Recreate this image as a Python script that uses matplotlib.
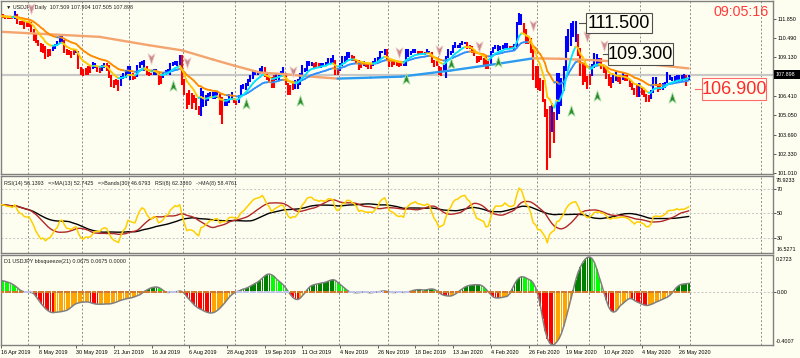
import matplotlib
matplotlib.use("Agg")
import matplotlib.pyplot as plt
import numpy as np
import pandas as pd
from matplotlib.collections import LineCollection
from matplotlib.lines import Line2D
from matplotlib.patches import Rectangle
from matplotlib.path import Path

plt.rcParams["font.family"] = ["Liberation Sans", "DejaVu Sans"]

BG = "#FEFEF0"
W, H = 800, 358

# ---------------- data ----------------
highs = [
    112.17, 112.17, 112.05, 111.98,
    112.00, 112.05, 112.40, 112.20, 111.70,
    111.70, 111.70, 111.70, 111.70, 111.65,
    111.10, 110.80, 110.35, 110.15, 110.05,
    109.95, 109.70, 109.75, 110.00, 110.10,
    110.25, 110.70, 110.65, 110.35, 109.70,
    109.65, 109.55, 109.70, 109.75, 109.55,
    108.45, 108.30, 108.40, 108.50, 108.50,
    108.80, 108.75, 108.55, 108.50, 108.60,
    108.70, 108.70, 108.60, 107.85, 107.50,
    107.60, 107.50, 107.80, 108.00, 108.20,
    108.55, 108.50, 108.00, 107.85, 108.60,
    108.80, 108.90, 108.95, 108.55, 108.10,
    108.00, 108.30, 108.30, 108.05, 107.90,
    108.00, 108.25, 108.30, 108.70, 108.80,
    108.85, 108.90, 109.30, 109.30, 107.60,
    106.60, 106.80, 106.65, 106.50, 106.30,
    105.70, 106.95, 106.75, 106.50, 106.60,
    106.70, 106.70, 106.70, 106.70, 106.60,
    106.35, 106.20, 106.20, 106.55, 106.70,
    106.30, 106.20, 106.50, 107.20, 107.25,
    107.30, 107.60, 107.90, 108.25, 108.20,
    108.20, 108.35, 108.50, 108.45, 108.10,
    107.75, 107.75, 107.85, 107.95, 108.05,
    108.20, 108.45, 108.05, 107.30, 107.20,
    107.40, 107.50, 107.60, 108.00, 108.60,
    108.40, 108.90, 108.90, 108.80, 108.75,
    108.80, 108.75, 108.75, 108.75, 108.80,
    109.05, 109.05, 109.30, 108.95, 108.30,
    108.70, 109.25, 109.20, 109.50, 109.50,
    109.30, 109.25, 109.00, 108.95, 108.85,
    108.85, 108.80, 108.70, 108.75, 108.90,
    109.05, 109.15, 109.60, 109.60, 109.70,
    109.70, 109.00, 108.95, 108.95, 108.90,
    108.70, 108.80, 108.90, 109.70, 109.70,
    109.60, 109.70, 109.70, 109.60, 109.55,
    109.55, 109.50, 109.70, 109.60,
    109.50, 108.95, 108.90, 108.55,
    108.45, 108.60, 109.25, 109.70, 109.60,
    110.00, 110.20, 110.00, 110.15, 110.30,
    110.20, 110.20, 110.00, 109.95, 109.75,
    109.25, 109.20, 109.25, 109.10, 109.25,
    108.90, 109.60, 109.85, 110.00, 110.00,
    109.90, 110.00, 110.15, 110.15, 109.95,
    109.95, 110.05, 111.60, 112.25, 112.20,
    111.55, 111.15, 110.65, 110.50, 109.70,
    108.55, 108.50, 107.65, 107.55, 106.20,
    105.50, 105.70, 105.90, 105.30, 108.00,
    108.00, 107.65, 108.50, 110.65, 111.10,
    111.55, 111.70, 111.70, 110.75, 109.80,
    108.70, 108.70, 107.80, 107.95, 108.65,
    109.40, 109.35, 109.05, 109.10, 108.55,
    108.50, 107.95, 107.75, 107.95, 108.10,
    107.85, 107.85, 108.00, 107.90, 107.85,
    107.60, 107.35, 106.95, 107.20, 107.30,
    107.00, 106.80, 106.55, 106.50, 106.80,
    107.75, 107.75, 107.25, 107.30, 107.30,
    107.40, 108.10, 107.90, 107.75, 107.80,
    107.85, 107.85, 107.85, 107.95, 107.90,
    107.904,
]
lows = [
    111.85, 111.87, 111.80, 111.85,
    111.85, 111.80, 111.85, 111.50, 111.40,
    111.40, 111.15, 111.30, 111.30, 110.90,
    110.30, 110.15, 109.90, 109.50, 109.45,
    109.00, 109.15, 109.25, 109.55, 109.70,
    109.95, 110.05, 110.15, 109.40, 109.30,
    109.30, 109.10, 109.30, 109.40, 108.30,
    107.85, 107.80, 107.90, 107.90, 108.00,
    108.30, 108.40, 108.10, 108.00, 108.15,
    108.40, 108.15, 107.70, 107.05, 107.00,
    107.20, 106.78, 107.10, 107.60, 107.70,
    107.95, 107.55, 107.55, 107.60, 107.75,
    108.40, 108.60, 108.20, 107.90, 107.80,
    107.85, 107.85, 107.90, 107.20, 107.25,
    107.70, 107.85, 107.95, 107.90, 108.50,
    108.60, 108.50, 108.45, 107.20, 106.50,
    105.50, 105.80, 105.50, 105.90, 105.40,
    105.05, 105.00, 105.60, 105.70, 106.05,
    106.30, 106.20, 106.20, 106.30, 105.05,
    104.45, 105.70, 105.70, 105.90, 106.20,
    105.90, 105.75, 105.90, 106.40, 106.90,
    106.80, 107.10, 107.40, 107.60, 107.85,
    107.85, 107.95, 108.00, 107.75, 107.50,
    107.30, 107.00, 106.95, 107.50, 107.55,
    107.80, 107.85, 107.20, 106.50, 106.50,
    106.80, 106.90, 106.90, 107.20, 107.90,
    108.10, 108.20, 108.55, 108.50, 108.30,
    108.40, 108.40, 108.40, 108.50, 108.50,
    108.60, 108.75, 108.75, 107.90, 107.90,
    108.20, 108.55, 108.80, 108.90, 109.05,
    108.85, 108.85, 108.65, 108.25, 108.35,
    108.50, 108.45, 108.30, 108.30, 108.55,
    108.70, 108.80, 109.00, 109.40, 109.30,
    108.90, 108.45, 108.45, 108.60, 108.50,
    108.45, 108.50, 108.50, 108.50, 109.15,
    109.30, 109.40, 109.45, 109.30, 109.35,
    109.35, 109.30, 109.35, 109.35,
    108.75, 108.45, 108.50, 107.85,
    107.80, 108.20, 107.65, 109.05, 109.30,
    109.45, 109.80, 109.80, 109.80, 110.00,
    110.05, 109.75, 109.70, 109.40, 109.20,
    108.75, 108.80, 108.95, 108.55, 108.30,
    108.30, 108.60, 109.40, 109.75, 109.55,
    109.65, 109.70, 109.75, 109.75, 109.70,
    109.70, 109.60, 109.85, 111.40, 111.40,
    110.75, 110.10, 110.05, 109.40, 107.50,
    107.00, 106.80, 106.75, 106.00, 104.95,
    101.20, 102.05, 103.85, 103.10, 104.70,
    105.15, 105.70, 106.75, 108.20, 109.50,
    109.90, 110.55, 110.20, 109.20, 107.80,
    107.15, 107.40, 106.90, 107.15, 107.80,
    108.40, 108.55, 108.50, 108.30, 108.00,
    107.60, 107.10, 106.95, 107.30, 107.45,
    107.40, 107.25, 107.55, 107.45, 107.45,
    107.05, 106.80, 106.50, 106.35, 106.35,
    106.45, 106.35, 105.99, 106.00, 106.20,
    106.60, 107.10, 106.70, 106.80, 106.85,
    106.95, 107.30, 107.50, 107.45, 107.40,
    107.55, 107.40, 107.45, 107.55, 107.10,
    107.505,
]
closes = [
    112.02, 112.00, 111.93, 111.90,
    111.93, 111.85, 112.20, 111.60, 111.55,
    111.60, 111.40, 111.45, 111.50, 111.10,
    110.75, 110.25, 110.10, 109.75, 109.95,
    109.30, 109.60, 109.60, 109.85, 110.05,
    110.05, 110.55, 110.35, 109.60, 109.35,
    109.50, 109.40, 109.60, 109.60, 108.30,
    108.10, 108.15, 108.40, 108.20, 108.20,
    108.45, 108.55, 108.40, 108.35, 108.55,
    108.55, 108.40, 107.70, 107.35, 107.30,
    107.30, 107.20, 107.75, 107.85, 107.85,
    108.45, 107.85, 107.80, 107.80, 108.50,
    108.75, 108.85, 108.50, 108.00, 107.90,
    107.90, 108.25, 108.00, 107.30, 107.70,
    107.90, 108.20, 108.15, 108.65, 108.65,
    108.80, 108.60, 108.90, 107.35, 106.60,
    105.90, 106.50, 106.30, 106.05, 105.50,
    105.30, 106.70, 105.85, 106.15, 106.35,
    106.60, 106.25, 106.60, 106.45, 105.40,
    106.10, 105.80, 106.10, 106.50, 106.25,
    106.20, 105.95, 106.40, 106.95, 106.90,
    107.25, 107.55, 107.80, 108.05, 108.10,
    108.10, 108.15, 108.45, 107.95, 107.55,
    107.55, 107.05, 107.75, 107.85, 107.90,
    108.05, 107.85, 107.25, 106.90, 106.95,
    107.25, 107.10, 107.50, 107.95, 108.30,
    108.35, 108.85, 108.75, 108.70, 108.45,
    108.60, 108.50, 108.70, 108.60, 108.65,
    108.95, 108.85, 108.80, 108.05, 108.20,
    108.60, 109.20, 108.95, 109.40, 109.25,
    109.05, 109.00, 108.80, 108.40, 108.80,
    108.65, 108.60, 108.65, 108.65, 108.65,
    108.90, 109.05, 109.50, 109.50, 109.50,
    109.00, 108.60, 108.85, 108.75, 108.60,
    108.60, 108.70, 108.55, 109.60, 109.35,
    109.55, 109.50, 109.60, 109.40, 109.45,
    109.40, 109.40, 109.55, 109.40,
    108.85, 108.60, 108.55, 108.10,
    108.40, 108.45, 109.15, 109.50, 109.45,
    109.95, 109.95, 109.90, 110.15, 110.15,
    110.15, 109.85, 109.85, 109.50, 109.25,
    108.90, 109.05, 109.00, 108.95, 108.35,
    108.65, 109.50, 109.85, 109.95, 109.75,
    109.75, 109.80, 110.10, 109.80, 109.75,
    109.85, 110.00, 111.45, 112.10, 111.55,
    110.75, 110.20, 110.40, 109.50, 107.85,
    108.35, 107.00, 107.50, 106.15, 105.40,
    102.35, 105.65, 104.60, 104.70, 107.90,
    105.85, 107.60, 108.40, 110.65, 110.90,
    111.20, 111.20, 111.20, 109.50, 107.90,
    108.40, 107.55, 107.20, 107.90, 108.45,
    109.25, 108.80, 108.85, 108.45, 108.45,
    107.70, 107.20, 107.45, 107.90, 107.50,
    107.70, 107.70, 107.75, 107.60, 107.50,
    107.20, 106.90, 106.60, 107.15, 106.90,
    106.70, 106.55, 106.10, 106.25, 106.65,
    107.70, 107.15, 107.00, 107.00, 107.15,
    107.30, 107.70, 107.60, 107.55, 107.60,
    107.75, 107.55, 107.70, 107.65, 107.80,
    107.898,
]

date_labels = ["16 Apr 2019", "8 May 2019", "30 May 2019", "21 Jun 2019", "16 Jul 2019",
               "6 Aug 2019", "28 Aug 2019", "19 Sep 2019", "11 Oct 2019", "4 Nov 2019",
               "26 Nov 2019", "18 Dec 2019", "13 Jan 2020", "4 Feb 2020", "26 Feb 2020",
               "19 Mar 2020", "10 Apr 2020", "4 May 2020", "26 May 2020"]
label_step = 16

# slow moving average, read as points along the line
long_ma_bars = [0, 42, 63, 77, 90, 99, 110, 120, 131, 143, 157, 170, 191, 212, 226, 237, 254, 276, 292]
long_ma_vals = [110.93, 110.57, 109.98, 109.62, 108.98, 108.55, 108.06, 107.95, 107.78, 107.63,
                107.70, 107.77, 108.20, 108.70, 109.06, 109.03, 108.91, 108.63, 108.35]

# bbsqueeze histogram, one value per bar
squeeze = [
    0.090, 0.086, 0.082, 0.076, 0.070, 0.060, 0.048, 0.034, 0.018, 0.008,
    0.003, 0.002, 0.001, -0.002, -0.012, -0.035, -0.060, -0.085, -0.105, -0.125,
    -0.140, -0.150, -0.154, -0.152, -0.150, -0.148, -0.145, -0.141, -0.136, -0.125,
    -0.110, -0.095, -0.085, -0.080, -0.076, -0.074, -0.073, -0.073, -0.078, -0.084,
    -0.088, -0.090, -0.090, -0.090, -0.089, -0.088, -0.088, -0.085, -0.080, -0.074,
    -0.066, -0.060, -0.055, -0.050, -0.046, -0.043, -0.038, -0.032, -0.025, -0.018,
    -0.005, 0.008, 0.018, 0.028, 0.035, 0.039, 0.040, 0.036, 0.026, 0.012,
    0.002, -0.002, 0.002, 0.003, 0.002, 0.006, 0.010, 0.004, -0.010, -0.035,
    -0.055, -0.075, -0.095, -0.110, -0.122, -0.130, -0.140, -0.148, -0.154, -0.157,
    -0.155, -0.148, -0.135, -0.120, -0.100, -0.080, -0.058, -0.035, -0.018, -0.004,
    0.004, 0.010, 0.018, 0.025, 0.030, 0.038, 0.048, 0.058, 0.068, 0.078,
    0.092, 0.108, 0.124, 0.136, 0.138, 0.132, 0.120, 0.100, 0.085, 0.070,
    0.053, 0.030, 0.005, -0.020, -0.040, -0.052, -0.055, -0.045, -0.025, -0.005,
    0.020, 0.040, 0.052, 0.058, 0.062, 0.066, 0.070, 0.073, 0.078, 0.085,
    0.092, 0.096, 0.090, 0.075, 0.060, 0.045, 0.030, 0.015, 0.004, 0.001,
    -0.002, -0.003, -0.002, 0.000, 0.002, 0.001, -0.002, -0.003, -0.001, 0.001,
    0.003, 0.006, 0.009, 0.010, 0.006, 0.002, -0.001, -0.002, 0.000, 0.002,
    0.001, -0.001, 0.000, 0.003, 0.008, 0.014, 0.018, 0.020, 0.020, 0.018,
    0.018, 0.020, 0.024, 0.025, 0.022, 0.012, -0.002, -0.015, -0.022, -0.026,
    -0.028, -0.028, -0.022, -0.012, 0.000, 0.015, 0.028, 0.040, 0.048, 0.053,
    0.055, 0.057, 0.057, 0.057, 0.052, 0.040, 0.022, 0.002, -0.018, -0.035,
    -0.042, -0.043, -0.041, -0.038, -0.034, -0.030, -0.010, 0.025, 0.060, 0.090,
    0.110, 0.118, 0.116, 0.108, 0.098, 0.090, 0.070, 0.035, -0.020, -0.100,
    -0.200, -0.290, -0.350, -0.385, -0.400, -0.395, -0.375, -0.350, -0.310, -0.255,
    -0.190, -0.120, -0.050, 0.020, 0.090, 0.150, 0.190, 0.225, 0.250, 0.265,
    0.268, 0.255, 0.225, 0.175, 0.116, 0.060, 0.000, -0.060, -0.110, -0.140,
    -0.150, -0.145, -0.125, -0.100, -0.086, -0.070, -0.055, -0.046, -0.050, -0.062,
    -0.072, -0.080, -0.088, -0.096, -0.100, -0.098, -0.092, -0.085, -0.075, -0.068,
    -0.060, -0.052, -0.044, -0.036, -0.023, -0.005, 0.020, 0.040, 0.053, 0.060,
    0.063, 0.065, 0.0675,
]
squeeze_on = [(0, 9), (14, 70), (76, 77), (78, 99), (123, 147), (163, 164), (174, 292)]

up_arrow_bars = [73, 104, 127, 172, 191, 211, 242, 253, 285]
up_arrow_prices = [107.13, 105.85, 106.07, 107.63, 108.63, 108.77, 105.36, 106.42, 106.28]
down_arrow_bars = [13, 64, 79, 124, 169, 186, 203, 226, 249, 256]
down_arrow_prices = [112.61, 109.05, 108.77, 108.20, 109.48, 109.62, 109.91, 111.40, 110.62, 109.98]

price_ticks = [111.850, 110.490, 109.130, 106.410, 105.050, 103.690, 102.330, 101.010]
last_price = 107.898
rsi_seed_gain, rsi_seed_loss = 0.16, 0.12

# ---------------- derived series ----------------
n = len(closes)
x = np.arange(n)
close_s = pd.Series(closes)

dates = pd.bdate_range("2019-04-16", "2020-06-01")
dates = dates.drop([pd.Timestamp("2019-12-25"), pd.Timestamp("2020-01-01")])
month_starts = [i for i in range(1, len(dates)) if dates[i].month != dates[i - 1].month]
grid_x = [m + 0.5 for m in month_starts] + [322.7]

# heiken-ashi colouring of the bars
opens = [closes[0]] + closes[:-1]
ha_close = [(o + h + l + c) / 4 for o, h, l, c in zip(opens, highs, lows, closes)]
ha_open = [(opens[0] + closes[0]) / 2]
for i in range(1, n):
    ha_open.append((ha_open[-1] + ha_close[i - 1]) / 2)
bar_colors = ["#0000FF" if c >= o else "#FF0000" for o, c in zip(ha_open, ha_close)]

fast_ma = close_s.ewm(span=8, adjust=False).mean().values
mid_ma = close_s.ewm(span=21, adjust=False).mean().values

# RSI(14) on closes, Wilder smoothing, lightly smoothed for display
diff = close_s.diff().fillna(0)
avg_up, avg_dn = rsi_seed_gain, rsi_seed_loss
rsi = []
for d in diff:
    avg_up = (avg_up * 13 + max(d, 0)) / 14
    avg_dn = (avg_dn * 13 + max(-d, 0)) / 14
    rsi.append(100 * avg_up / (avg_up + avg_dn))
rsi = pd.Series(rsi).ewm(span=3, adjust=False).mean()
rsi_ma = rsi.rolling(13, min_periods=1).mean()
rsi_band = rsi.rolling(30, min_periods=1).mean()


# ---------------- helpers ----------------
def fx(px):
    return px / W


def fy(py):
    return 1 - py / H


def px_axes(x0, y0, x1, y1):
    ax = fig.add_axes([fx(x0), fy(y1), (x1 - x0) / W, (y1 - y0) / H])
    ax.set_facecolor(BG)
    ax.set_xlim(0.13, 327.8)
    for s in ax.spines.values():
        s.set_color("#808080")
        s.set_linewidth(1.0)
    ax.tick_params(left=False, labelleft=False, bottom=False, labelbottom=False)
    for g in grid_x:
        ax.axvline(g, color="#8C8C8C", lw=0.7, ls=(0, (2, 2)), zorder=0.5)
    return ax


def slope_line(ax, xs, ys, up_color, down_color, lw, z=3):
    pts = np.column_stack([xs, ys])
    segs = np.stack([pts[:-1], pts[1:]], axis=1)
    cols = [up_color if b >= a else down_color for a, b in zip(ys[:-1], ys[1:])]
    ax.add_collection(LineCollection(segs, colors=cols, linewidths=lw, capstyle="round", zorder=z))


up_path = Path([(0, 1), (0.6, -0.8), (0, -0.35), (-0.6, -0.8), (0, 1)],
               [Path.MOVETO, Path.LINETO, Path.LINETO, Path.LINETO, Path.CLOSEPOLY])
down_path = Path([(0, -1), (0.6, 0.8), (0, 0.35), (-0.6, 0.8), (0, -1)],
                 [Path.MOVETO, Path.LINETO, Path.LINETO, Path.LINETO, Path.CLOSEPOLY])

small = 3.9

fig = plt.figure(figsize=(W / 100, H / 100), dpi=100, facecolor=BG)

# ---------------- main price panel ----------------
main = px_axes(1, 1, 773, 174)
main.set_ylim(100.913, 113.096)
main.axhline(last_price, color="#C8C8C8", lw=1.6, zorder=1)
main.vlines(x, lows, highs, colors=bar_colors, linewidth=1.5, zorder=2)
slope_line(main, np.array(long_ma_bars), np.array(long_ma_vals), "#2D9CF0", "#F4A46E", 1.7, z=2.5)
slope_line(main, x, mid_ma, "#2E8FFF", "#FF8C00", 1.3)
slope_line(main, x, fast_ma, "#00E5FF", "#FFC800", 1.3)
main.plot(up_arrow_bars, up_arrow_prices, ls="none", marker=up_path, ms=8.5,
          mfc="#2E8B2E", mec="#A8E0A8", mew=0.6, zorder=4)
main.plot(down_arrow_bars, down_arrow_prices, ls="none", marker=down_path, ms=8.5,
          mfc="#C88C8C", mec="#F0C8C8", mew=0.6, zorder=4)
main.yaxis.tick_right()
main.set_yticks(price_ticks)
main.set_yticklabels([f"{p:.3f}" for p in price_ticks])
main.tick_params(axis="y", right=True, labelright=True, length=2, width=0.6, pad=1,
                 labelsize=small, color="#404040")
main.text(0.006, 0.965, "\u25bc USDJPY,Daily  107.509 107.904 107.505 107.898",
          transform=main.transAxes, fontsize=small, va="center", color="#202020")

# current price tag on the scale
fig.patches.append(Rectangle((fx(774), fy(79)), 26 / W, 9 / H, transform=fig.transFigure,
                             fc="#000000", ec="none"))
fig.text(fx(776), fy(74.6), f"{last_price:.3f}", color="white", fontsize=small, va="center")

# price labels drawn on the chart
for val, (bx0, bx1, by0, by1), dash, col, ecol in [
    ("111.500", (586, 652, 13, 33), (579, 585), "#000000", "#505050"),
    ("109.300", (608, 673, 43, 65), (603, 608), "#000000", "#505050"),
    ("106.900", (702, 766, 78, 100), (695, 701), "#FF2A2A", "#FF6A6A"),
]:
    fig.patches.append(Rectangle((fx(bx0), fy(by1)), (bx1 - bx0) / W, (by1 - by0) / H,
                                 transform=fig.transFigure, fc=BG, ec=ecol, lw=0.8))
    fig.text(fx((bx0 + bx1) / 2), fy((by0 + by1) / 2 + 0.5), val, ha="center", va="center",
             fontsize=13, color=col)
    yy = (by0 + by1) / 2
    fig.add_artist(Line2D([fx(dash[0]), fx(dash[1])], [fy(yy), fy(yy)], transform=fig.transFigure,
                          color=ecol, lw=0.8))
fig.text(fx(741), fy(11.5), "09:05:16", ha="center", va="center", fontsize=10.3, color="#FF3B3B")

# ---------------- RSI panel ----------------
rp = px_axes(1, 176, 773, 253)
rp.set_ylim(17.33, 80.70)
for lvl in [70, 50, 30]:
    rp.axhline(lvl, color="#C4C4C4", lw=0.7, ls=(0, (2, 2)), zorder=0.6)
rp.plot(x, rsi_band, color="#000000", lw=1.0, zorder=3)
rp.plot(x, rsi_ma, color="#B02828", lw=1.0, zorder=3)
rp.plot(x, rsi, color="#FFD000", lw=1.1, zorder=3)
rp.yaxis.tick_right()
rp.set_yticks([70, 50, 30])
rp.set_yticklabels(["70", "50", "30"])
rp.tick_params(axis="y", right=True, labelright=True, length=2, width=0.6, pad=1,
               labelsize=small, color="#404040")
for val, yv in [("78.9233", 0.94), ("16.5271", 0.04)]:
    rp.text(1.004, yv, val, transform=rp.transAxes, fontsize=small, va="center")
rp.text(0.004, 0.90, "RSI(14) 56.1393   =>MA(13) 52.7425   =>Bands(30) 46.6793   RSI(8) 62.3360   ->MA(8) 58.4761",
        transform=rp.transAxes, fontsize=small, va="center", color="#202020")

# ---------------- bbsqueeze panel ----------------
sp = px_axes(1, 255, 773, 345)
sp.set_ylim(-0.3992, 0.2826)
sp.axhline(0, color="#C4C4C4", lw=0.7, ls=(0, (2, 2)), zorder=0.6)
sq = np.array(squeeze)
prev = np.concatenate([[sq[0]], sq[:-1]])
hist_colors = []
for v, p in zip(sq, prev):
    if v >= 0:
        hist_colors.append("#008000" if v >= p else "#00FF00")
    else:
        hist_colors.append("#FF0000" if v < p else "#FFA500")
sp.bar(np.arange(len(sq)), sq, width=0.75, color=hist_colors, linewidth=0, zorder=2)
sp.plot(np.arange(len(sq)), sq, color="#808080", lw=1.1, zorder=3)
on = np.zeros(len(sq), dtype=bool)
for a, b in squeeze_on:
    on[a:b + 1] = True
idx = np.arange(len(sq))
sp.scatter(idx[~on], np.zeros((~on).sum()), marker="s", s=2.2, color="#C0C4EC", lw=0, zorder=4)
sp.scatter(idx[on], np.zeros(on.sum()), marker="s", s=3.2, color="#D07A30", lw=0, zorder=4)
sp.yaxis.tick_right()
sp.set_yticks([0])
sp.set_yticklabels(["0.00"])
sp.tick_params(axis="y", right=True, labelright=True, length=2, width=0.6, pad=1,
               labelsize=small, color="#404040")
sp.text(1.004, 0.955, "0.2723", transform=sp.transAxes, fontsize=small, va="center")
sp.text(1.004, 0.04, "-0.4007", transform=sp.transAxes, fontsize=small, va="center")
sp.text(0.004, 0.93, "D1 USDJPY bbsqueeze(21) 0.0675 0.0675 0.0000",
        transform=sp.transAxes, fontsize=small, va="center", color="#202020")

sp.set_xticks([i * label_step for i in range(len(date_labels))])
sp.set_xticklabels(date_labels, ha="left")
sp.tick_params(axis="x", bottom=True, labelbottom=True, length=2, width=0.6, pad=1.5,
               labelsize=small, color="#404040")

fig.savefig("out.png", dpi=100, facecolor=BG)
